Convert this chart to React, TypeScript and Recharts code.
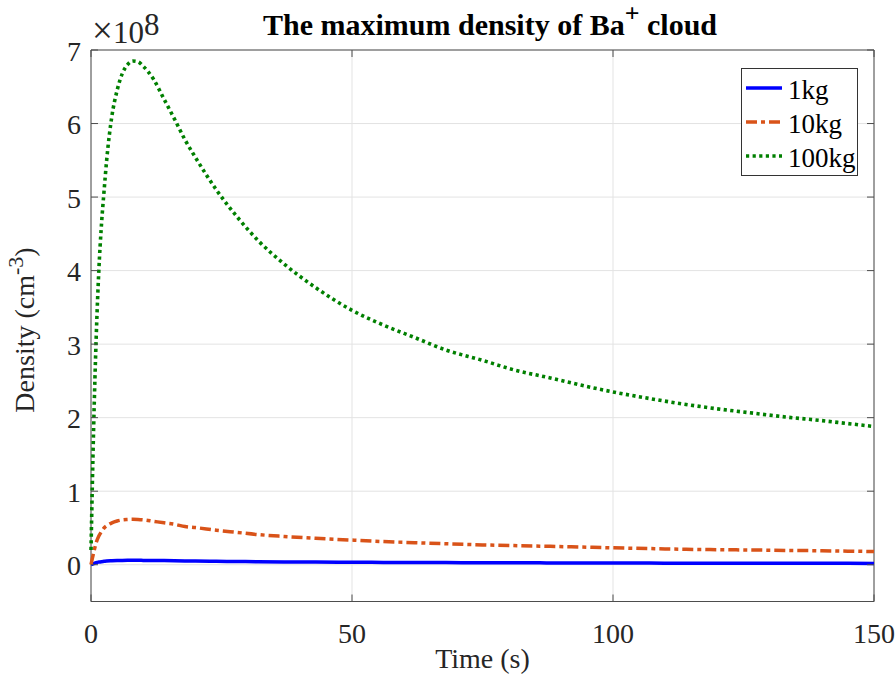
import { LineChart, Line, XAxis, YAxis, CartesianGrid, ReferenceArea, Legend } from 'recharts'

// time samples (s)
const times = [0, 0.5, 1, 1.5, 2, 2.5, 3, 4, 5, 6, 7, 8, 9, 10, 12, 14, 16, 18, 20, 24, 28, 32, 37, 43, 50, 56, 62, 68, 75, 81, 88, 94, 100, 107, 114, 120, 127, 133, 140, 145, 150]

// max density, units of 1e8 cm^-3
const density1kg = [0, 0.015, 0.028, 0.036, 0.042, 0.046, 0.05, 0.054, 0.057, 0.059, 0.06, 0.06, 0.06, 0.059, 0.058, 0.056, 0.054, 0.052, 0.05, 0.047, 0.044, 0.041, 0.038, 0.036, 0.034, 0.032, 0.03, 0.029, 0.027, 0.026, 0.025, 0.024, 0.023, 0.022, 0.021, 0.021, 0.02, 0.02, 0.019, 0.019, 0.018]
const density10kg = [0, 0.16, 0.3, 0.39, 0.45, 0.5, 0.53, 0.57, 0.595, 0.61, 0.615, 0.617, 0.615, 0.61, 0.59, 0.57, 0.55, 0.52, 0.505, 0.47, 0.44, 0.41, 0.385, 0.36, 0.335, 0.315, 0.3, 0.285, 0.27, 0.26, 0.25, 0.24, 0.23, 0.22, 0.21, 0.205, 0.2, 0.195, 0.19, 0.185, 0.18]
const density100kg = [0.2, 1.85, 3.1, 4.0, 4.62, 5.08, 5.5, 6.1, 6.45, 6.68, 6.8, 6.85, 6.84, 6.78, 6.6, 6.33, 6.06, 5.78, 5.54, 5.1, 4.73, 4.41, 4.09, 3.77, 3.46, 3.26, 3.09, 2.92, 2.78, 2.65, 2.54, 2.44, 2.35, 2.26, 2.18, 2.12, 2.06, 2.01, 1.96, 1.92, 1.88]

const xTicks = [0, 50, 100, 150]
const yTicks = [0, 1, 2, 3, 4, 5, 6, 7]

const series = [
  { key: 'kg1', name: '1kg', color: '#0000ff', dash: undefined as string | undefined, width: 3.5 },
  { key: 'kg10', name: '10kg', color: '#d95319', dash: '11 4 4 4', width: 3.5 },
  { key: 'kg100', name: '100kg', color: '#008000', dash: '3.2 3.4', width: 3.6 },
]

const data = times.map((t, i) => ({
  t,
  kg1: density1kg[i],
  kg10: density10kg[i],
  kg100: density100kg[i],
}))

const W = 896
const H = 682
const PLOT_TOP = 50
const PLOT_RIGHT = 874
const FONT = 'Liberation Serif, serif'
const AXIS_COLOR = '#4d4d4d'
const TEXT_COLOR = '#262626'

const XTick = ({ x, y, payload }: any) => (
  <g>
    <line x1={x} x2={x} y1={y} y2={y - 7} stroke={AXIS_COLOR} />
    <line x1={x} x2={x} y1={PLOT_TOP} y2={PLOT_TOP + 7} stroke={AXIS_COLOR} />
    <text x={x} y={y + 41.5} textAnchor="middle" style={{ fontSize: 28, fontFamily: FONT }} fill={TEXT_COLOR}>
      {payload.value}
    </text>
  </g>
)

const YTick = ({ x, y, payload }: any) => (
  <g>
    <line x1={x} x2={x + 7} y1={y} y2={y} stroke={AXIS_COLOR} />
    <line x1={PLOT_RIGHT} x2={PLOT_RIGHT - 7} y1={y} y2={y} stroke={AXIS_COLOR} />
    <text x={x - 10} y={y + 10.5} textAnchor="end" style={{ fontSize: 28, fontFamily: FONT }} fill={TEXT_COLOR}>
      {payload.value}
    </text>
  </g>
)

const XLabel = ({ viewBox }: any) => (
  <text x={viewBox.x + viewBox.width / 2} y={viewBox.y + 66} textAnchor="middle" style={{ fontSize: 28, fontFamily: FONT }} fill={TEXT_COLOR}>
    Time (s)
  </text>
)

const YLabel = () => (
  <text transform="translate(34, 330) rotate(-90)" textAnchor="middle" style={{ fontSize: 28, fontFamily: FONT }} fill={TEXT_COLOR}>
    Density (cm<tspan dy={-11} style={{ fontSize: 22 }}>-3</tspan><tspan dy={11}>)</tspan>
  </text>
)

const LegendBox = () => (
  <div
    style={{
      width: 117,
      height: 108,
      boxSizing: 'border-box',
      border: '1px solid #333',
      background: '#fff',
      paddingTop: 2,
      fontFamily: FONT,
      fontSize: 27,
      color: '#000',
    }}
  >
    {series.map((s) => (
      <div key={s.key} style={{ height: 34, display: 'flex', alignItems: 'center' }}>
        <svg width={46} height={34} style={{ flex: 'none' }}>
          <line x1={4} x2={40} y1={17} y2={17} stroke={s.color} strokeWidth={s.width} strokeDasharray={s.dash} />
        </svg>
        <span style={{ lineHeight: '34px', position: 'relative', top: 2 }}>{s.name}</span>
      </div>
    ))}
  </div>
)

export default function App() {
  return (
    <div style={{ position: 'absolute', left: 0, top: 0, width: W, height: H, background: '#fff' }}>
      <LineChart width={W} height={H} data={data} margin={{ top: PLOT_TOP, right: W - PLOT_RIGHT, left: 0, bottom: 0 }}>
        <CartesianGrid stroke="#e3e3e3" />
        <XAxis
          dataKey="t"
          type="number"
          domain={[0, 150]}
          ticks={xTicks}
          interval={0}
          height={80.5}
          tickSize={0}
          tickMargin={0}
          tickLine={false}
          axisLine={false}
          tick={<XTick />}
          label={<XLabel />}
        />
        <YAxis
          type="number"
          domain={[-0.5, 7]}
          ticks={yTicks}
          interval={0}
          width={91}
          tickSize={0}
          tickMargin={0}
          tickLine={false}
          axisLine={false}
          tick={<YTick />}
          label={<YLabel />}
        />
        <ReferenceArea x1={0} x2={150} y1={-0.5} y2={7} fill="none" stroke={AXIS_COLOR} strokeWidth={1} ifOverflow="visible" />
        {series.map((s) => (
          <Line
            key={s.key}
            dataKey={s.key}
            name={s.name}
            type="monotone"
            stroke={s.color}
            strokeWidth={s.width}
            strokeDasharray={s.dash}
            dot={false}
            activeDot={false}
            isAnimationActive={false}
          />
        ))}
        <Legend
          layout="vertical"
          align="center"
          verticalAlign="middle"
          content={<LegendBox />}
          wrapperStyle={{ left: 741, top: 68, width: 117, height: 108 }}
        />
      </LineChart>
      <svg width={W} height={H} style={{ position: 'absolute', left: 0, top: 0, pointerEvents: 'none' }}>
        <text x={490} y={35} textAnchor="middle" style={{ fontSize: 30, fontWeight: 'bold', fontFamily: FONT }} fill="#000">
          The maximum density of Ba<tspan dy={-13} style={{ fontSize: 26 }}>+</tspan><tspan dy={13}> cloud</tspan>
        </text>
        <text x={92} y={43} style={{ fontSize: 31, fontFamily: FONT }} fill={TEXT_COLOR}>
          <tspan style={{ fontSize: 37 }}>×</tspan>10<tspan dy={-8}>8</tspan>
        </text>
      </svg>
    </div>
  )
}
